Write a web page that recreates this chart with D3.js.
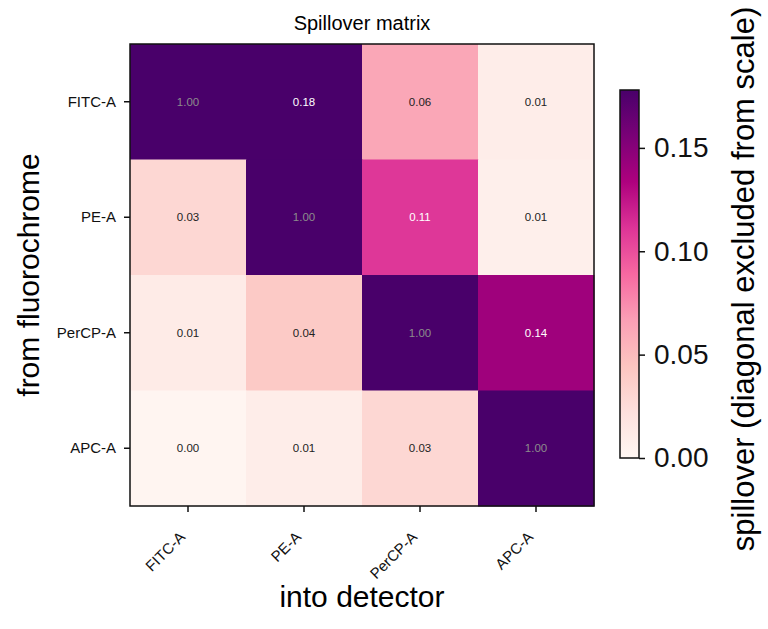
<!DOCTYPE html>
<html>
<head>
<meta charset="utf-8">
<script src="https://cdn.jsdelivr.net/npm/d3@7"></script>
<style>
  body { margin: 0; background: #fff; }
  text { font-family: "Liberation Sans", Arial, sans-serif; }
</style>
</head>
<body>
<script>
// channels (rows = from fluorochrome, cols = into detector)
var channels = ["FITC-A", "PE-A", "PerCP-A", "APC-A"];

// spillover rows
var rowFITC  = [1.00, 0.178, 0.062, 0.010];
var rowPE    = [0.030, 1.00, 0.110, 0.008];
var rowPerCP = [0.012, 0.040, 1.00, 0.140];
var rowAPC   = [0.002, 0.010, 0.030, 1.00];
var matrix = [rowFITC, rowPE, rowPerCP, rowAPC];

var cbarTicks = [0.00, 0.05, 0.10, 0.15];

// RdPu stops (matplotlib)
var rdpu = ["#fff7f3", "#fde0dd", "#fcc5c0", "#fa9fb5", "#f768a1",
            "#dd3497", "#ae017e", "#7a0177", "#49006a"];

var W = 768, H = 629;
var margin = {left: 130, top: 44, right: 174, bottom: 123};
var pw = W - margin.left - margin.right,   // 464
    ph = H - margin.top - margin.bottom;   // 462

// vmax = largest off-diagonal value
var vmax = d3.max(matrix, function(r, i) {
  return d3.max(r.filter(function(v, j) { return j != i; }));
});

var cmap = d3.scaleLinear()
  .domain(d3.range(rdpu.length).map(function(i) { return i / (rdpu.length - 1); }))
  .range(rdpu)
  .interpolate(d3.interpolateRgb)
  .clamp(true);
function color(v) { return cmap(Math.min(v / vmax, 1)); }

var svg = d3.select("body").append("svg")
  .attr("width", W).attr("height", H);

var x = d3.scaleBand().domain(channels).range([margin.left, margin.left + pw]);
var y = d3.scaleBand().domain(channels).range([margin.top, margin.top + ph]);

// cells
var cells = [];
matrix.forEach(function(r, i) {
  r.forEach(function(v, j) { cells.push({row: channels[i], col: channels[j], v: v, diag: i == j}); });
});

svg.append("g").selectAll("rect")
  .data(cells).enter().append("rect")
    .attr("x", function(d) { return x(d.col); })
    .attr("y", function(d) { return y(d.row); })
    .attr("width", x.bandwidth() + 0.5)
    .attr("height", y.bandwidth() + 0.5)
    .attr("fill", function(d) { return color(d.v); });

svg.append("g").selectAll("text")
  .data(cells).enter().append("text")
    .attr("x", function(d) { return x(d.col) + x.bandwidth() / 2; })
    .attr("y", function(d) { return y(d.row) + y.bandwidth() / 2; })
    .attr("dy", "0.35em")
    .attr("text-anchor", "middle")
    .attr("font-size", 11.5)
    .attr("fill", function(d) {
      if (d.diag) return "#8c8c8c";
      return d.v / vmax > 0.5 ? "#fff" : "#222";
    })
    .text(function(d) { return d.v.toFixed(2); });

// frame
svg.append("rect")
  .attr("x", margin.left).attr("y", margin.top)
  .attr("width", pw).attr("height", ph)
  .attr("fill", "none").attr("stroke", "#111").attr("stroke-width", 1.5);

// x axis
var xAxis = svg.append("g")
  .attr("transform", "translate(0," + (margin.top + ph) + ")")
  .call(d3.axisBottom(x).tickSize(6).tickPadding(4));
xAxis.select(".domain").remove();
xAxis.selectAll(".tick line").attr("stroke", "#111").attr("stroke-width", 1.5);
xAxis.selectAll(".tick text")
  .attr("font-size", 15)
  .attr("fill", "#111")
  .attr("text-anchor", "end")
  .attr("dy", null)
  .attr("y", 0)
  .attr("transform", "translate(-2,32) rotate(-45)");

// y axis
var yAxis = svg.append("g")
  .attr("transform", "translate(" + margin.left + ",0)")
  .call(d3.axisLeft(y).tickSize(6).tickPadding(8));
yAxis.select(".domain").remove();
yAxis.selectAll(".tick line").attr("stroke", "#111").attr("stroke-width", 1.5);
yAxis.selectAll(".tick text").attr("font-size", 15).attr("fill", "#111");

// title and axis labels
svg.append("text")
  .attr("x", margin.left + pw / 2).attr("y", 30)
  .attr("text-anchor", "middle").attr("font-size", 20)
  .text("Spillover matrix");

svg.append("text")
  .attr("x", margin.left + pw / 2).attr("y", 607)
  .attr("text-anchor", "middle").attr("font-size", 30)
  .text("into detector");

svg.append("text")
  .attr("transform", "translate(39," + (margin.top + ph / 2) + ") rotate(-90)")
  .attr("text-anchor", "middle").attr("font-size", 30)
  .text("from fluorochrome");

// colorbar
var cb = {x: 620, w: 19, top: 90, bottom: 458};
var cy = d3.scaleLinear().domain([0, vmax]).range([cb.bottom, cb.top]);

var grad = svg.append("defs").append("linearGradient")
  .attr("id", "cbgrad").attr("x1", 0).attr("y1", 1).attr("x2", 0).attr("y2", 0);
grad.selectAll("stop")
  .data(rdpu).enter().append("stop")
    .attr("offset", function(d, i) { return i / (rdpu.length - 1); })
    .attr("stop-color", function(d) { return d; });

svg.append("rect")
  .attr("x", cb.x).attr("y", cb.top)
  .attr("width", cb.w).attr("height", cb.bottom - cb.top)
  .attr("fill", "url(#cbgrad)")
  .attr("stroke", "#111").attr("stroke-width", 1.5);

var cAxis = svg.append("g")
  .attr("transform", "translate(" + (cb.x + cb.w) + ",0)")
  .call(d3.axisRight(cy).tickValues(cbarTicks).tickFormat(d3.format(".2f")).tickSize(6).tickPadding(9));
cAxis.select(".domain").remove();
cAxis.selectAll(".tick line").attr("stroke", "#111").attr("stroke-width", 1.5);
cAxis.selectAll(".tick text").attr("font-size", 28).attr("fill", "#111");

svg.append("text")
  .attr("transform", "translate(754," + ((cb.top + cb.bottom) / 2 + 5) + ") rotate(-90)")
  .attr("text-anchor", "middle").attr("font-size", 31)
  .text("spillover (diagonal excluded from scale)");
</script>
</body>
</html>
